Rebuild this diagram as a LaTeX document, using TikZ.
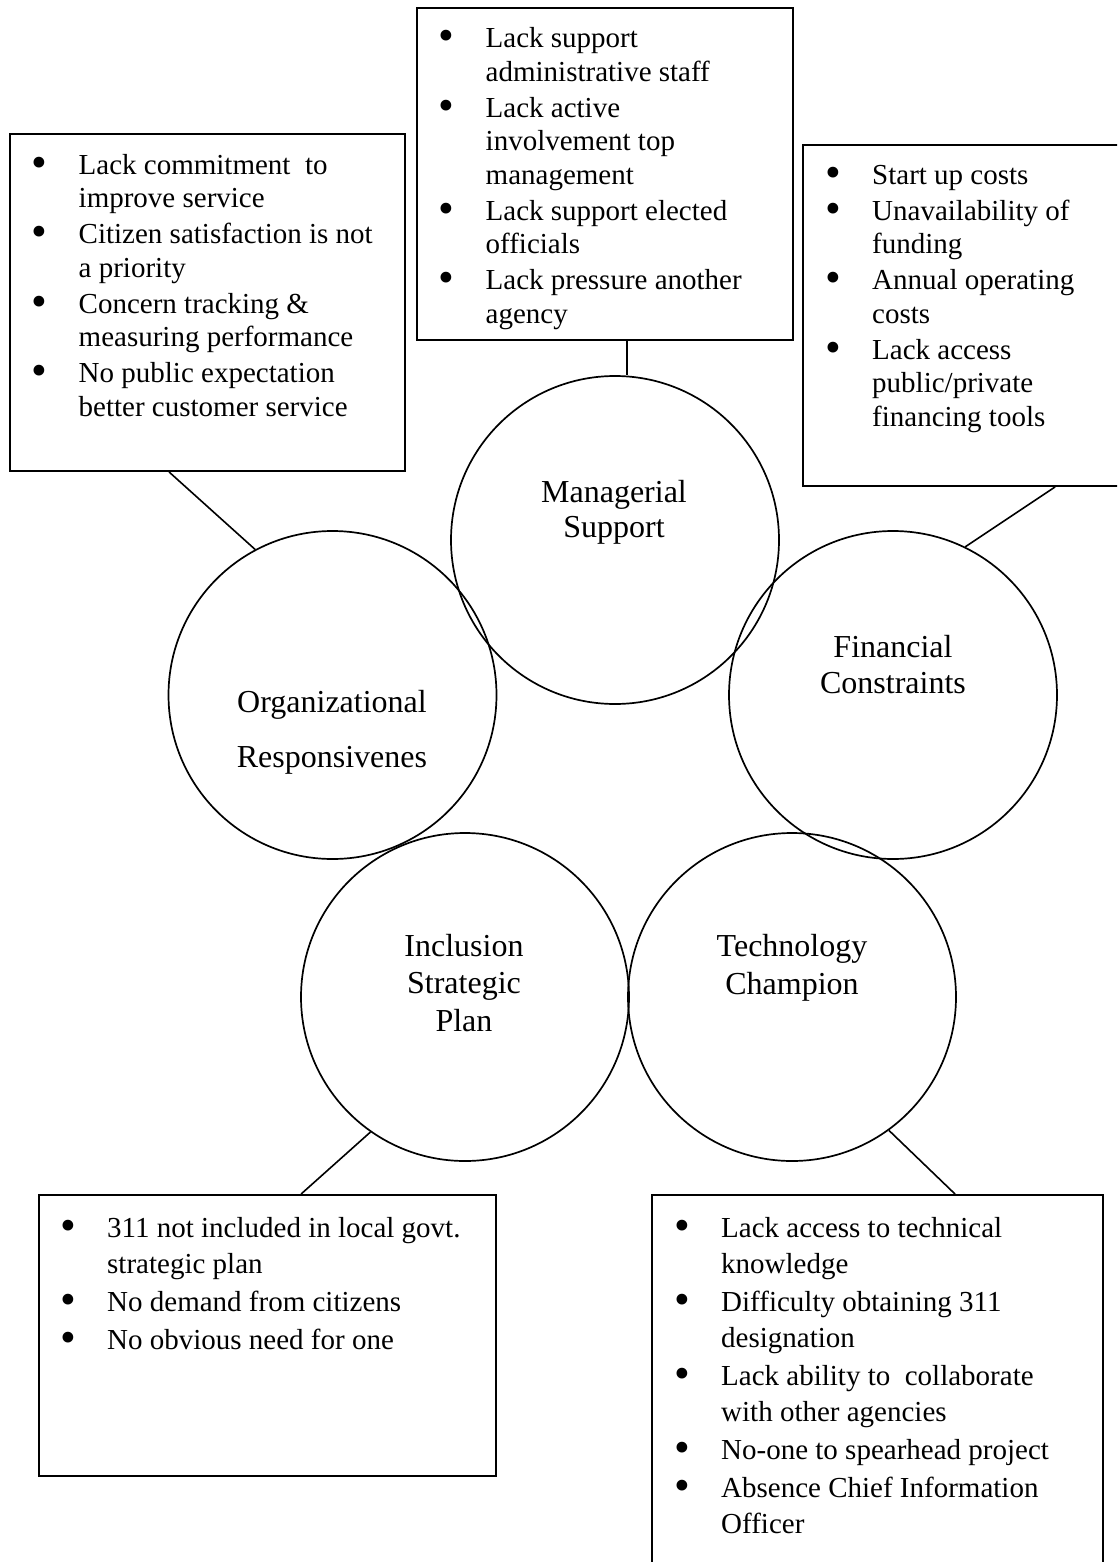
\documentclass[tikz,border=0pt]{standalone}
\usepackage{graphicx}
\usepackage{fontspec}
\setmainfont{Liberation Serif}
\newcommand{\bitem}{\makebox[47pt][l]{\raisebox{-3pt}{\scalebox{1.55}{\textbullet}}}}
\newcommand{\bcont}{\hspace*{47pt}}
\begin{document}
\begin{tikzpicture}[x=1pt,y=-1pt,
  boxst/.style={draw=black,line width=1.9pt,inner sep=0pt},
  circst/.style={draw=black,line width=1.7pt,circle,inner sep=0pt,minimum size=328pt},
  btext/.style={anchor=north west,inner sep=0pt,align=left,font=\fontsize{29}{33.5}\selectfont},
  btextb/.style={anchor=north west,inner sep=0pt,align=left,font=\fontsize{29}{36}\selectfont},
  ctext/.style={anchor=north,inner sep=0pt,align=center},
  conn/.style={line width=1.6pt}]
\useasboundingbox (0,0) rectangle (1117,1562);
\clip (0,0) rectangle (1117,1562);

% boxes
\node[boxst,minimum width=395pt,minimum height=337pt] (lbox) at (207.5,302.5) {};
\node[boxst,minimum width=376pt,minimum height=332pt] (tbox) at (605,174) {};
\node[boxst,minimum width=316pt,minimum height=341pt] (rbox) at (961,315.5) {};
\node[boxst,minimum width=457.4pt,minimum height=281pt] (blbox) at (267.3,1335.5) {};
\node[boxst,minimum width=451pt,minimum height=380pt] (brbox) at (877.5,1385) {};

% box texts
\node[btext] (ltext) at (31.5,148) {\rule{0pt}{26pt}\bitem Lack commitment\ \ to\\
\bcont improve service\\[2.5pt]
\bitem Citizen satisfaction is not\\
\bcont a priority\\[2.5pt]
\bitem Concern tracking \&\\
\bcont measuring performance\\[2.5pt]
\bitem No public expectation\\
\bcont better customer service};

\node[btext] (ttext) at (438.5,21.5) {\rule{0pt}{26pt}\bitem Lack support\\
\bcont administrative staff\\[2.5pt]
\bitem Lack active\\
\bcont involvement top\\
\bcont management\\[2.5pt]
\bitem Lack support elected\\
\bcont officials\\[2.5pt]
\bitem Lack pressure another\\
\bcont agency};

\node[btext] (rtext) at (825,158) {\rule{0pt}{26pt}\bitem Start up costs\\[2.5pt]
\bitem Unavailability of\\
\bcont funding\\[2.5pt]
\bitem Annual operating\\
\bcont costs\\[2.5pt]
\bitem Lack access\\
\bcont public/private\\
\bcont financing tools};

\node[btextb] (bltext) at (60,1211.5) {\rule{0pt}{26pt}\bitem 311 not included in local govt.\\
\bcont strategic plan\\[2pt]
\bitem No demand from citizens\\[2pt]
\bitem No obvious need for one};

\node[btextb] (brtext) at (674,1211.5) {\rule{0pt}{26pt}\bitem Lack access to technical\\
\bcont knowledge\\[2pt]
\bitem Difficulty obtaining 311\\
\bcont designation\\[2pt]
\bitem Lack ability to\ \ collaborate\\
\bcont with other agencies\\[2pt]
\bitem No-one to spearhead project\\[2pt]
\bitem Absence Chief Information\\
\bcont Officer};

% circles
\node[circst] (man) at (615,540) {};
\node[circst] (org) at (332.5,695) {};
\node[circst] (fin) at (893,695) {};
\node[circst] (inc) at (465,997) {};
\node[circst] (tech) at (792,997) {};

% circle labels
\node[ctext,font=\fontsize{32}{35}\selectfont] (manlab) at (614,474) {\rule{0pt}{28pt}Managerial\\Support};
\node[ctext,font=\fontsize{32}{55}\selectfont] (orglab) at (332,684) {\rule{0pt}{28pt}Organizational\\Responsivenes};
\node[ctext,font=\fontsize{32}{36}\selectfont] (finlab) at (893,629) {\rule{0pt}{28pt}Financial\\Constraints};
\node[ctext,font=\fontsize{32}{37.5}\selectfont] (inclab) at (464,928) {\rule{0pt}{28pt}Inclusion\\Strategic\\Plan};
\node[ctext,font=\fontsize{32}{38}\selectfont] (techlab) at (792,928) {\rule{0pt}{28pt}Technology\\Champion};

% connectors
\coordinate (ta) at ([xshift=211pt]tbox.south west);
\draw[conn] (ta) -- (ta |- man.north);
\draw[conn] ([xshift=160pt]lbox.south west) -- (org.118);
\draw[conn] ([xshift=253pt]rbox.south west) -- (fin.64.5);
\draw[conn] ([xshift=263.4pt]blbox.north west) -- (inc.235);
\draw[conn] ([xshift=304pt]brbox.north west) -- (tech.306);
\end{tikzpicture}
\end{document}
